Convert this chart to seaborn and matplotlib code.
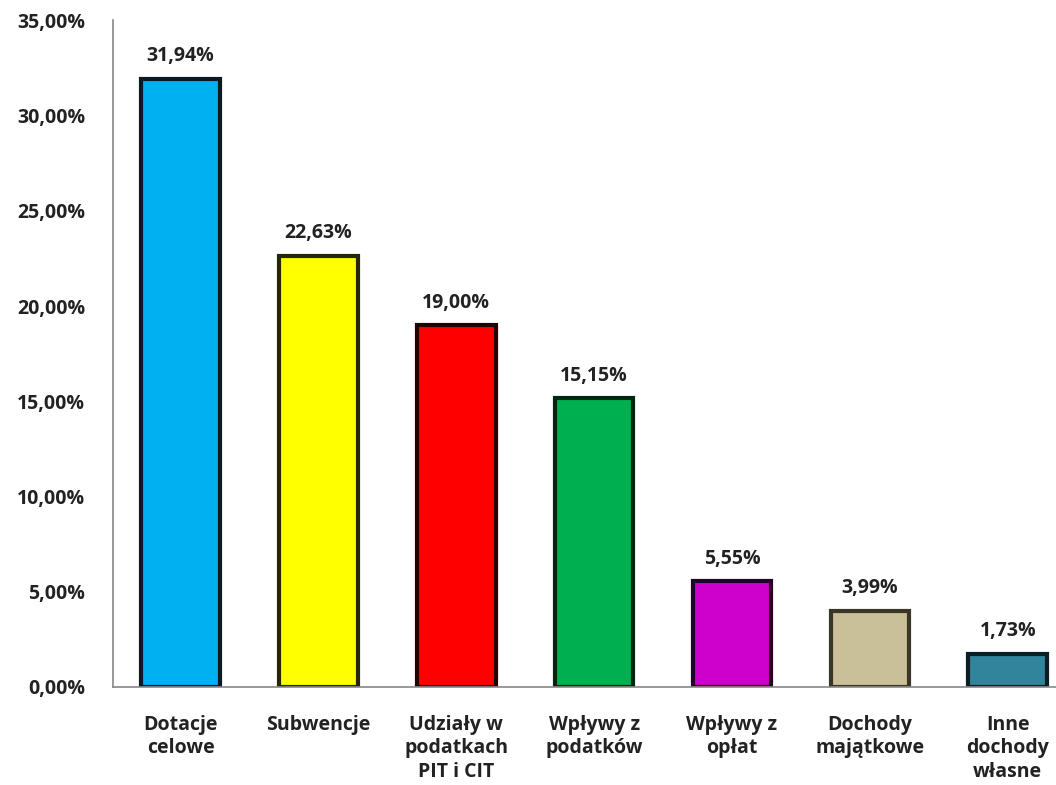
import matplotlib
matplotlib.use('Agg')
import matplotlib.pyplot as plt
import seaborn as sns
import pandas as pd

# Struktura dochodów
categories = ['Dotacje\ncelowe', 'Subwencje', 'Udziały w\npodatkach\nPIT i CIT',
              'Wpływy z\npodatków', 'Wpływy z\nopłat', 'Dochody\nmajątkowe',
              'Inne\ndochody\nwłasne']
values = [31.94, 22.63, 19.00, 15.15, 5.55, 3.99, 1.73]
colors = ['#00B0F0', '#FFFF00', '#FF0000', '#00B050', '#CC00CC', '#C9BF99', '#31849B']
edge_colors = ['#0A1A24', '#262600', '#260000', '#00260F', '#260026', '#3A3626', '#0A1E24']
yticks = [0, 5, 10, 15, 20, 25, 30, 35]

df = pd.DataFrame({'kategoria': categories, 'wartosc': values})

sns.set_style('white')
plt.rcParams['font.family'] = ['Open Sans', 'DejaVu Sans']

fig = plt.figure(figsize=(10.56, 7.85), dpi=100)
ax = fig.add_axes([0.107, 0.125, 0.893, 0.849])

sns.barplot(data=df, x='kategoria', y='wartosc', hue='kategoria', palette=colors,
            legend=False, width=0.57, ax=ax, saturation=1)

for bar, ec in zip(ax.patches, edge_colors):
    bar.set_edgecolor(ec)
    bar.set_linewidth(3)

for i, v in enumerate(values):
    ax.annotate(f'{v:.2f}%'.replace('.', ','), (i, v), xytext=(0, 9),
                textcoords='offset points', ha='center', va='bottom',
                fontsize=14, fontweight='bold', color='#222222')

ax.set_ylim(0, 35)
ax.set_xlim(-0.49, 6.35)
ax.set_yticks(yticks)
ax.set_yticklabels([f'{t:.2f}%'.replace('.', ',') for t in yticks],
                   fontsize=14, fontweight='bold', color='#222222')
ax.tick_params(axis='y', length=0, pad=20)
ax.tick_params(axis='x', length=0, pad=20, labelsize=14)
for lbl in ax.get_xticklabels():
    lbl.set_fontweight('bold')
    lbl.set_color('#222222')
    lbl.set_va('top')
    lbl.set_linespacing(1.25)
ax.set_xlabel('')
ax.set_ylabel('')

for side in ['top', 'right']:
    ax.spines[side].set_visible(False)
for side in ['left', 'bottom']:
    ax.spines[side].set_color('#888888')
    ax.spines[side].set_linewidth(1.2)

fig.savefig('out.png', dpi=100)
